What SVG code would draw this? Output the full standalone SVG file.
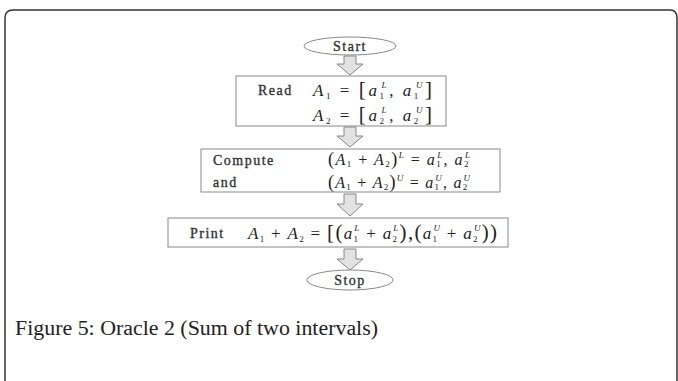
<svg xmlns="http://www.w3.org/2000/svg" width="678" height="381" viewBox="0 0 678 381">
<defs>
<style>
.frame{fill:none;stroke:#333;stroke-width:1.5}
.box{fill:#fff;stroke:#888;stroke-width:1}
.ell{fill:#fff;stroke:#888;stroke-width:1}
.arr{fill:#e2e2e2;stroke:#888;stroke-width:1}
.lbl{font-family:"Liberation Serif",serif;font-size:14px;fill:#333;stroke:#333;stroke-width:0.35;letter-spacing:1.5px}
.m{font-family:"Liberation Serif",serif;font-size:17px;fill:#222}
.mc{font-family:"Liberation Serif",serif;font-size:16px;fill:#222}
.i{font-style:italic}
.s{font-size:9px}
.b{font-size:21px}
.bc{font-size:18px}
.cap{font-family:"Liberation Serif",serif;font-size:20px;fill:#222}
</style>
</defs>
<path class="frame" d="M5 390 V18 Q5 10 13 10 H670 Q677 10 677 18 V390"/>
<g id="connectors">
<polygon class="arr" points="344,56 356,56 356,64 363,64 350,75 337,64 344,64"/>
<polygon class="arr" points="344,127 356,127 356,136 363,136 350,147 337,136 344,136"/>
<polygon class="arr" points="344,194 356,194 356,204 363,204 350,216 337,204 344,204"/>
<polygon class="arr" points="344,249 356,249 356,259 363,259 350,270 337,259 344,259"/>
</g>
<g id="start">
<ellipse class="ell" cx="350" cy="46" rx="46" ry="9"/>
<text class="lbl" x="350" y="51" text-anchor="middle">Start</text>
</g>
<g id="read">
<rect class="box" x="236" y="76" width="210" height="50"/>
<text class="lbl" x="258" y="95">Read</text>
<text class="m" x="313" y="96" textLength="119" lengthAdjust="spacing"><tspan class="i">A</tspan><tspan class="s" dy="3">1</tspan><tspan dy="-3"> = </tspan><tspan class="b">[</tspan><tspan class="i">a</tspan><tspan class="s" dy="3">1</tspan><tspan class="s i" dx="-5" dy="-11">L</tspan><tspan dy="8">, </tspan><tspan class="i">a</tspan><tspan class="s" dy="3">1</tspan><tspan class="s i" dx="-5" dy="-11">U</tspan><tspan class="b" dy="8">]</tspan></text>
<text class="m" x="313" y="121" textLength="119" lengthAdjust="spacing"><tspan class="i">A</tspan><tspan class="s" dy="3">2</tspan><tspan dy="-3"> = </tspan><tspan class="b">[</tspan><tspan class="i">a</tspan><tspan class="s" dy="3">2</tspan><tspan class="s i" dx="-5" dy="-11">L</tspan><tspan dy="8">, </tspan><tspan class="i">a</tspan><tspan class="s" dy="3">2</tspan><tspan class="s i" dx="-5" dy="-11">U</tspan><tspan class="b" dy="8">]</tspan></text>
</g>
<g id="compute">
<rect class="box" x="201" y="149" width="299" height="43"/>
<text class="lbl" x="213" y="165">Compute</text>
<text class="lbl" x="213" y="187">and</text>
<text class="mc" x="328" y="165" textLength="142" lengthAdjust="spacing"><tspan class="bc">(</tspan><tspan class="i">A</tspan><tspan class="s" dy="2">1</tspan><tspan dy="-2"> + </tspan><tspan class="i">A</tspan><tspan class="s" dy="2">2</tspan><tspan class="bc" dy="-2">)</tspan><tspan class="s i" dy="-7">L</tspan><tspan dy="7"> = </tspan><tspan class="i">a</tspan><tspan class="s" dy="2">1</tspan><tspan class="s i" dx="-5" dy="-9">L</tspan><tspan dy="7">, </tspan><tspan class="i">a</tspan><tspan class="s" dy="2">2</tspan><tspan class="s i" dx="-5" dy="-9">L</tspan></text>
<text class="mc" x="328" y="188" textLength="142" lengthAdjust="spacing"><tspan class="bc">(</tspan><tspan class="i">A</tspan><tspan class="s" dy="2">1</tspan><tspan dy="-2"> + </tspan><tspan class="i">A</tspan><tspan class="s" dy="2">2</tspan><tspan class="bc" dy="-2">)</tspan><tspan class="s i" dy="-7">U</tspan><tspan dy="7"> = </tspan><tspan class="i">a</tspan><tspan class="s" dy="2">1</tspan><tspan class="s i" dx="-5" dy="-9">U</tspan><tspan dy="7">, </tspan><tspan class="i">a</tspan><tspan class="s" dy="2">2</tspan><tspan class="s i" dx="-5" dy="-9">U</tspan></text>
</g>
<g id="print">
<rect class="box" x="168" y="218" width="340" height="29"/>
<text class="lbl" x="190" y="238">Print</text>
<text class="m" x="248" y="239" textLength="249" lengthAdjust="spacing"><tspan class="i">A</tspan><tspan class="s" dy="3">1</tspan><tspan dy="-3"> + </tspan><tspan class="i">A</tspan><tspan class="s" dy="3">2</tspan><tspan dy="-3"> = </tspan><tspan class="b">[(</tspan><tspan class="i">a</tspan><tspan class="s" dy="3">1</tspan><tspan class="s i" dx="-5" dy="-11">L</tspan><tspan dy="8"> + </tspan><tspan class="i">a</tspan><tspan class="s" dy="3">2</tspan><tspan class="s i" dx="-5" dy="-11">L</tspan><tspan class="b" dy="8">),</tspan><tspan class="b">(</tspan><tspan class="i">a</tspan><tspan class="s" dy="3">1</tspan><tspan class="s i" dx="-5" dy="-11">U</tspan><tspan dy="8"> + </tspan><tspan class="i">a</tspan><tspan class="s" dy="3">2</tspan><tspan class="s i" dx="-5" dy="-11">U</tspan><tspan class="b" dy="8">))</tspan></text>
</g>
<g id="stop">
<ellipse class="ell" cx="350" cy="280" rx="43" ry="10"/>
<text class="lbl" x="350" y="285" text-anchor="middle">Stop</text>
</g>
<text class="cap" x="15" y="335" textLength="363" lengthAdjust="spacingAndGlyphs">Figure 5: Oracle 2 (Sum of two intervals)</text>
</svg>
